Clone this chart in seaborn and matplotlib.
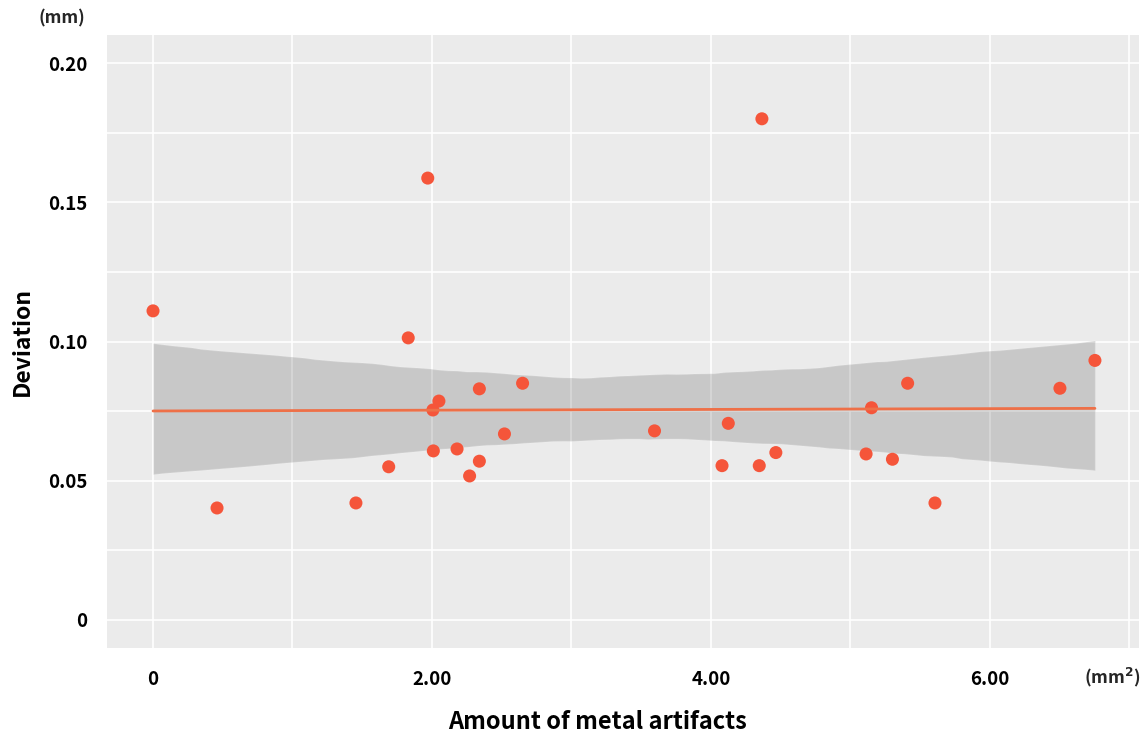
import matplotlib
matplotlib.use("Agg")
import matplotlib.pyplot as plt
import seaborn as sns
import numpy as np
import pandas as pd

# Data
artifacts = [0.0, 0.459, 1.455, 1.69, 1.83, 1.97, 2.007, 2.05, 2.01, 2.18, 2.27, 2.34, 2.34,
             2.52, 2.65, 3.596, 4.08, 4.125, 4.347, 4.466, 4.366, 5.113, 5.152, 5.302,
             5.411, 5.607, 6.503, 6.754]
deviation = [0.111, 0.0402, 0.042, 0.055, 0.1013, 0.1587, 0.0754, 0.0786, 0.0607, 0.0614,
             0.0517, 0.057, 0.083, 0.0668, 0.085, 0.0679, 0.0554, 0.0706, 0.0554, 0.0601,
             0.180, 0.0596, 0.0762, 0.0577, 0.085, 0.042, 0.0832, 0.0932]
x_ticks = [0, 2, 4, 6]
x_labels = ["0", "2.00", "4.00", "6.00"]
y_ticks = [0, 0.05, 0.10, 0.15, 0.20]
y_labels = ["0", "0.05", "0.10", "0.15", "0.20"]

df = pd.DataFrame({"artifacts": artifacts, "deviation": deviation})

sns.set_theme(style="darkgrid")
plt.rcParams["font.family"] = ["Noto Sans CJK KR", "DejaVu Sans"]

fig = plt.figure(figsize=(11.44, 7.39), dpi=100)
ax = fig.add_axes([107/1144, 91/739, (1139-107)/1144, (648-35)/739])
ax.set_facecolor("#EBEBEB")

pt_color = "#F5553A"
sns.scatterplot(data=df, x="artifacts", y="deviation", ax=ax, color=pt_color,
                s=88, edgecolor="none", zorder=2)
# CI band (grey, drawn over points)
sns.regplot(data=df, x="artifacts", y="deviation", ax=ax, scatter=False,
            color="black", ci=95, seed=3, line_kws=dict(lw=0, zorder=3), truncate=True)
# fitted line
sns.regplot(data=df, x="artifacts", y="deviation", ax=ax, scatter=False,
            color="#EE7048", ci=None, line_kws=dict(lw=2, zorder=4), truncate=True)

ax.set_xlim(-0.33, 7.07)
ax.set_ylim(-0.0101, 0.2101)
ax.set_xticks(x_ticks)
ax.set_xticklabels(x_labels)
ax.set_yticks(y_ticks)
ax.set_yticklabels(y_labels)
ax.set_xticks(np.arange(1, 8, 2), minor=True)
ax.set_yticks(np.arange(0.025, 0.2, 0.05), minor=True)
ax.grid(which="both", color="white", lw=1.2)
ax.set_axisbelow(True)
for s in ax.spines.values():
    s.set_visible(False)

ax.tick_params(axis="both", which="major", length=4, width=1, color="#333333",
               labelsize=13.5, pad=12)
ax.tick_params(axis="y", which="major", pad=10)
ax.tick_params(axis="both", which="minor", length=0)
for lab in ax.get_xticklabels() + ax.get_yticklabels():
    lab.set_fontweight("bold")
    lab.set_color("black")

ax.set_xlabel("Amount of metal artifacts", fontsize=17, fontweight="bold", color="black")
ax.set_ylabel("Deviation", fontsize=16.5, fontweight="bold", color="black")
ax.xaxis.set_label_coords((597-107)/1032, (648-722)/613)
ax.yaxis.set_label_coords((22-107)/1032, 0.5)
ax.xaxis.label.set_va("center")
ax.yaxis.label.set_va("center")

fig.text(62/1144, 1 - 18/739, "(mm)", fontsize=12.5, fontweight="bold", ha="center", va="center")
fig.text(1112/1144, 1 - 677/739, "(mm$^{\\mathbf{2}}$)", fontsize=12.5, fontweight="bold",
         ha="center", va="center")

fig.savefig("out.png", dpi=100)
